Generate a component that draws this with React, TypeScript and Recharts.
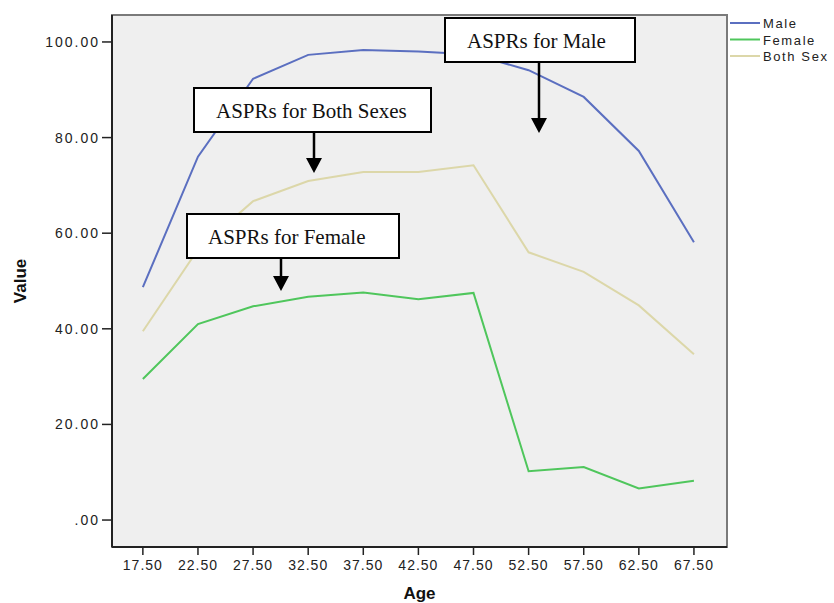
import React from 'react';
import {
  LineChart,
  Line,
  XAxis,
  YAxis,
  ReferenceArea,
  Label
} from 'recharts';

// age group midpoints
const ages = [17.5, 22.5, 27.5, 32.5, 37.5, 42.5, 47.5, 52.5, 57.5, 62.5, 67.5];

// ASPR values
const male = [48.7, 76.0, 92.3, 97.3, 98.3, 98.0, 97.4, 94.1, 88.5, 77.2, 58.1];
const female = [29.5, 41.0, 44.7, 46.7, 47.6, 46.2, 47.5, 10.2, 11.1, 6.6, 8.2];
const both = [39.5, 56.6, 66.7, 70.9, 72.8, 72.8, 74.2, 56.0, 51.9, 44.9, 34.7];

const yTicks = [0, 20, 40, 60, 80, 100];
const seriesNames = ['Male', 'Female', 'Both Sex'];
const notes = ['ASPRs for Male', 'ASPRs for Both Sexes', 'ASPRs for Female'];

const data = ages.map((a, i) => ({ age: a, male: male[i], female: female[i], both: both[i] }));

const W = 834;
const H = 603;
const sans = '"Liberation Sans", Arial, sans-serif';
const serif = '"Liberation Serif", "Times New Roman", serif';

const colors = ['#5b6fc0', '#4fc65c', '#dcd7a9'];

const xDomain: [number, number] = [14.7, 70.5];
const yDomain: [number, number] = [-5.64, 105.64];

const fmtY = (v: number) => (v === 0 ? '.00' : v.toFixed(2));

// callout boxes with arrows (layout only)
const callouts = [
  { box: [445, 18, 190, 44], tx: 467, ty: 48, ax: 539, ay0: 62, ay1: 133 },
  { box: [194, 88, 237, 44], tx: 216, ty: 118, ax: 314, ay0: 132, ay1: 173 },
  { box: [187, 214, 212, 44], tx: 208, ty: 244, ax: 281, ay0: 258, ay1: 291 }
];

const Overlay = () => (
  <svg width={W} height={H} style={{ position: 'absolute', left: 0, top: 0, pointerEvents: 'none' }}>
    {/* legend */}
    {seriesNames.map((n, i) => (
      <g key={n}>
        <line x1={730} x2={760} y1={23 + i * 16.5} y2={23 + i * 16.5} stroke={colors[i]} strokeWidth={2} />
        <text x={763} y={28 + i * 16.5} fontSize={13} fontFamily={sans} letterSpacing={1.6} fill="#222">
          {n}
        </text>
      </g>
    ))}
    {callouts.map((c, i) => {
      const [bx, by, bw, bh] = c.box;
      return (
        <g key={i}>
          <rect x={bx} y={by} width={bw} height={bh} fill="#fff" stroke="#000" strokeWidth={2} />
          <text x={c.tx} y={c.ty} fontSize={21} fontFamily={serif} fill="#111">
            {notes[i]}
          </text>
          <line x1={c.ax} x2={c.ax} y1={c.ay0} y2={c.ay1 - 12} stroke="#000" strokeWidth={2.5} />
          <polygon
            points={`${c.ax - 8},${c.ay1 - 15} ${c.ax + 8},${c.ay1 - 15} ${c.ax},${c.ay1}`}
            fill="#000"
          />
        </g>
      );
    })}
  </svg>
);

export default function App() {
  return (
    <div style={{ position: 'absolute', left: 0, top: 0, width: W, height: H, background: '#fff' }}>
      <LineChart width={W} height={H} data={data} margin={{ top: 15, right: 107, bottom: 0, left: 0 }}>
        <XAxis
          dataKey="age"
          type="number"
          domain={xDomain}
          ticks={ages}
          allowDataOverflow
          tickFormatter={(v: number) => v.toFixed(2)}
          tickSize={8}
          tickMargin={5}
          axisLine={{ stroke: '#222', strokeWidth: 2 }}
          tickLine={{ stroke: '#222', strokeWidth: 1.5 }}
          tick={{ fill: '#222', fontSize: 14, fontFamily: sans, letterSpacing: 1 }}
          height={56}
        >
          <Label
            value="Age"
            position="insideBottom"
            offset={4}
            style={{ fontSize: 17, fontWeight: 700, fontFamily: sans, fill: '#111' }}
          />
        </XAxis>
        <YAxis
          type="number"
          domain={yDomain}
          ticks={yTicks}
          allowDataOverflow
          tickFormatter={fmtY}
          width={112}
          tickSize={10}
          tickMargin={2}
          axisLine={{ stroke: '#222', strokeWidth: 2 }}
          tickLine={{ stroke: '#222', strokeWidth: 1.5 }}
          tick={{ fill: '#222', fontSize: 14, fontFamily: sans, letterSpacing: 2 }}
        >
          <Label
            value="Value"
            angle={-90}
            position="insideLeft"
            offset={20}
            style={{ fontSize: 17, fontWeight: 700, fontFamily: sans, fill: '#111', textAnchor: 'middle' }}
          />
        </YAxis>
        <ReferenceArea
          x1={xDomain[0]}
          x2={xDomain[1]}
          y1={yDomain[0]}
          y2={yDomain[1]}
          fill="#efefef"
          fillOpacity={1}
          stroke="#7a7a7a"
          strokeWidth={2}
        />
        <Line dataKey="male" name={seriesNames[0]} stroke={colors[0]} strokeWidth={2} dot={false} isAnimationActive={false} />
        <Line dataKey="female" name={seriesNames[1]} stroke={colors[1]} strokeWidth={2} dot={false} isAnimationActive={false} />
        <Line dataKey="both" name={seriesNames[2]} stroke={colors[2]} strokeWidth={2} dot={false} isAnimationActive={false} />
      </LineChart>
      <Overlay />
    </div>
  );
}
